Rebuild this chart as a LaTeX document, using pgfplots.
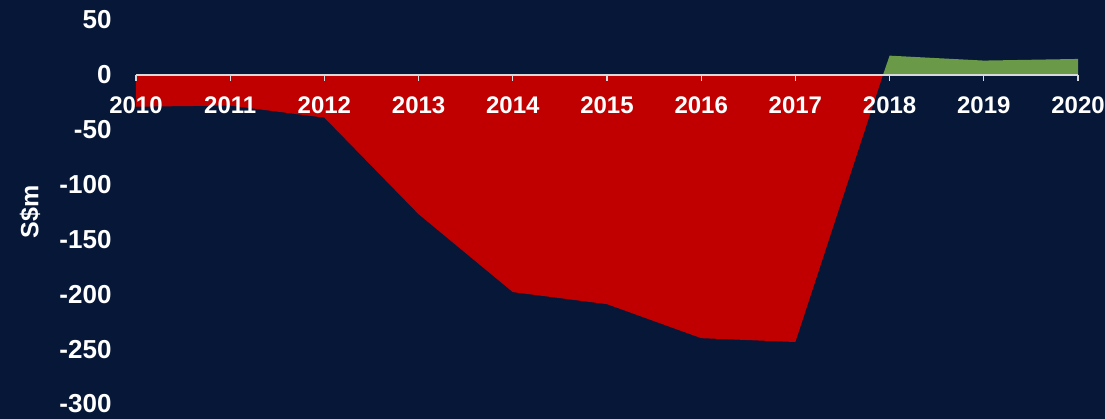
\documentclass[border=0pt]{standalone}
\usepackage{pgfplots}
\pgfplotsset{compat=1.18}
\usepackage{fontspec}
\setmainfont{Liberation Sans}
\definecolor{bg}{HTML}{061738}
\definecolor{redA}{HTML}{C00000}
\definecolor{greenA}{HTML}{6A9A47}
\definecolor{axisgray}{HTML}{D9D9D9}
\begin{document}
\begin{tikzpicture}
\fill[bg] (-136pt,-15pt) rectangle (969pt,404pt);
\begin{axis}[
 at={(0,0)}, anchor=south west,
 scale only axis, width=942pt, height=384pt,
 xmin=2010, xmax=2020, ymin=-300, ymax=50,
 axis on top,
 axis x line=middle, axis y line=left,
 axis line style={-},
 x axis line style={draw=axisgray, line width=1.5pt},
 y axis line style={draw=none},
 hide obscured x ticks=false, hide obscured y ticks=false,
 xtick={2010,2011,2012,2013,2014,2015,2016,2017,2018,2019,2020},
 xticklabels={2010,2011,2012,2013,2014,2015,2016,2017,2018,2019,2020},
 ytick={-300,-250,-200,-150,-100,-50,0,50},
 yticklabels={-300,-250,-200,-150,-100,-50,0,50},
 xticklabel style={font=\fontsize{24}{28}\selectfont\bfseries, text=white, anchor=north, yshift=-12pt},
 yticklabel style={font=\fontsize{26}{30}\selectfont\bfseries, text=white, anchor=east, xshift=-18pt},
 ytick style={draw=none},
 xtick style={draw=axisgray, line width=1.2pt},
 xtick align=outside,
 major tick length=6pt,
 ylabel={S\$m},
 ylabel style={at={(axis description cs:0,0.5)}, anchor=center, yshift=106pt, font=\fontsize{25}{29}\selectfont\bfseries, text=white},
]
\addplot[draw=none, fill=redA] coordinates {(2010,-29) (2011,-28) (2012,-39) (2013,-127) (2014,-198) (2015,-209) (2016,-240) (2017,-243.5) (2017.93,0)} \closedcycle;
\addplot[draw=none, fill=greenA] coordinates {(2017.93,0) (2018,17.5) (2019,13) (2020,14.5)} \closedcycle;
\end{axis}
\pgfresetboundingbox
\path (-136pt,-15pt) rectangle (969pt,404pt);
\end{tikzpicture}
\end{document}
